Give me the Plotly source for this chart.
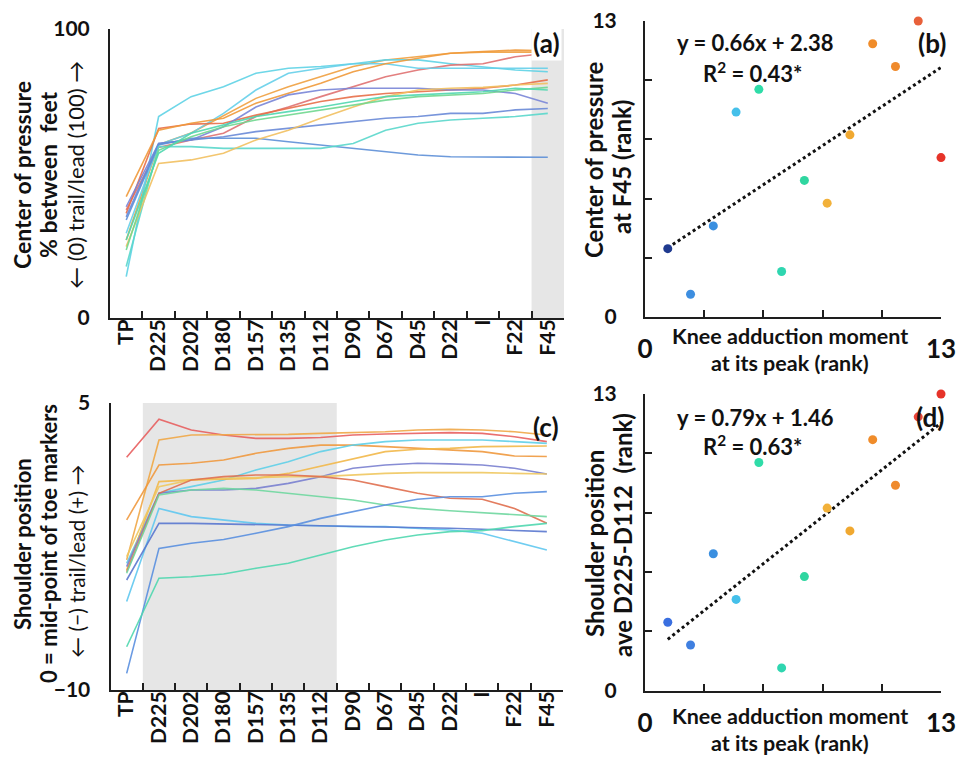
import plotly.graph_objects as go

# ---------------- data ----------------
categories = ["TP", "D225", "D202", "D180", "D157", "D135", "D112",
              "D90", "D67", "D45", "D22", "I", "F22", "F45"]

# Panel (a): centre of pressure, % between feet (13 subjects)
cop_s01 = [27, 60, 64, 70, 76, 80, 83.5, 87, 89.3, 90.4, 91.6, 92, 92, 92]
cop_s02 = [14.3, 69.7, 76.6, 80, 84.7, 86.4, 87, 88, 89.3, 89.3, 88, 87, 85.8, 85.2]
cop_s03 = [37.4, 59, 61.6, 63.9, 69.7, 73, 76.6, 80, 83.5, 85.8, 87.5, 88, 90.4, 91.6]
cop_s04 = [29.3, 60, 63.9, 70.8, 78.9, 84.7, 86.4, 88, 88, 86.4, 86.4, 86.4, 86.4, 86.4]
cop_s05 = [36.2, 65.6, 67.1, 67.4, 70.2, 72.5, 74.9, 76.6, 77.7, 78.3, 78.9, 79.5, 80.6, 82.4]
cop_s06 = [42, 65, 67.4, 69.1, 74.3, 77.7, 81.2, 85.2, 88, 89.9, 91.6, 92.2, 92.7, 92.5]
cop_s07 = [38.5, 60.4, 61.6, 66.2, 73, 77.2, 78.9, 79.5, 79.5, 79.5, 78.9, 78.9, 77.7, 74.3]
cop_s08 = [35, 60.4, 61.6, 62.7, 64.5, 65.6, 66.8, 67.9, 69.1, 69.7, 70.8, 70.8, 72, 72.5]
cop_s09 = [33.9, 59.9, 62.2, 62.2, 62.2, 61, 59.9, 58.7, 57.6, 56.4, 55.8, 55.8, 55.8, 55.6]
cop_s10 = [17.8, 59.3, 59.3, 58.7, 58.7, 58.7, 58.7, 60.4, 65, 67.4, 68.5, 69.1, 69.7, 70.8]
cop_s11 = [24.7, 53.5, 54.7, 57, 61.6, 65, 69.1, 73, 76.6, 78.9, 79.5, 79.8, 80.6, 81.2]
cop_s12 = [23.5, 58, 62.7, 66.2, 68.5, 70.2, 72, 73.7, 75.4, 76.6, 77.2, 77.7, 78.9, 79.8]
cop_s13 = [27, 57, 63.9, 66.8, 69.7, 71.4, 73, 74.9, 76.6, 77.2, 77.7, 78.3, 79.5, 78.9]

# Panel (c): shoulder position relative to mid-point of toe markers
sh_s01 = [2.16, 4.15, 3.59, 3.33, 3.15, 3.15, 3.2, 3.33, 3.38, 3.41, 3.45, 3.41, 3.24, 2.98]
sh_s02 = [-3.2, 3.07, 3.33, 3.33, 3.33, 3.36, 3.41, 3.45, 3.5, 3.59, 3.62, 3.59, 3.5, 3.33]
sh_s03 = [-1.11, 1.76, 1.85, 2.02, 2.37, 2.63, 2.8, 2.8, 2.72, 2.63, 2.54, 2.46, 2.23, 2.2]
sh_s04 = [-3.38, 0.28, 0.63, 0.98, 1.5, 1.93, 2.46, 2.8, 2.98, 3.07, 3.07, 3.07, 2.98, 2.89]
sh_s05 = [-3.73, 0.89, 0.98, 1.02, 1.06, 1.32, 1.71, 2.11, 2.46, 2.58, 2.63, 2.72, 2.75, 2.75]
sh_s06 = [-3.55, 0.28, 0.45, 0.45, 0.54, 0.8, 1.15, 1.59, 1.76, 1.85, 1.82, 1.76, 1.59, 1.29]
sh_s07 = [-3.03, 0.63, 0.98, 1.06, 1.1, 1.15, 1.15, 1.24, 1.32, 1.36, 1.36, 1.36, 1.32, 1.29]
sh_s08 = [-3.82, 0.28, 0.98, 1.15, 1.24, 1.24, 1.15, 0.98, 0.63, 0.28, 0.02, -0.03, -0.51, -1.29]
sh_s09 = [-3.9, 0.19, 0.45, 0.54, 0.45, 0.28, 0.1, -0.07, -0.33, -0.51, -0.63, -0.73, -0.85, -0.94]
sh_s10 = [-5.38, -0.51, -0.94, -1.11, -1.29, -1.38, -1.43, -1.46, -1.46, -1.55, -1.64, -1.81, -2.25, -2.68]
sh_s11 = [-4.25, -1.29, -1.29, -1.32, -1.38, -1.41, -1.41, -1.43, -1.46, -1.52, -1.55, -1.6, -1.67, -1.72]
sh_s12 = [-9.13, -2.6, -2.33, -2.13, -1.81, -1.46, -1.03, -0.68, -0.33, -0.03, 0.1, 0.1, 0.28, 0.37]
sh_s13 = [-7.74, -4.16, -4.08, -3.94, -3.64, -3.38, -2.94, -2.51, -2.16, -1.9, -1.72, -1.67, -1.46, -1.29]

# Panels (b) and (d): ranks
knee_rank = [1, 2, 3, 4, 5, 6, 7, 8, 9, 10, 11, 12, 13]
cop_f45_rank = [3, 1, 4, 9, 10, 2, 6, 5, 8, 12, 11, 13, 7]
shoulder_rank = [3, 2, 6, 4, 10, 1, 5, 8, 7, 11, 9, 12, 13]

# regression lines as reported
fit_b = (0.66, 2.38)
fit_d = (0.79, 1.46)
fit_x = [1, 13]

# ---------------- styles ----------------
W, H = 958, 758
FONT = "Lato"
AX = "#1e1e1e"
SHADE = "#e6e6e6"

cop_series = [cop_s01, cop_s02, cop_s03, cop_s04, cop_s05, cop_s06, cop_s07,
              cop_s08, cop_s09, cop_s10, cop_s11, cop_s12, cop_s13]
cop_colors = ["#f0a040", "#5fd3e6", "#e07272", "#66d0ea", "#e8704a", "#f09a3a",
              "#7a86d8", "#6a8ad8", "#5e90d8", "#5ad8cc", "#f2c060", "#70d890", "#50d8b0"]
sh_series = [sh_s01, sh_s02, sh_s03, sh_s04, sh_s05, sh_s06, sh_s07,
             sh_s08, sh_s09, sh_s10, sh_s11, sh_s12, sh_s13]
sh_colors = ["#e86060", "#f0a848", "#f09a40", "#60d0e8", "#f2b84a", "#7a80d0", "#f0c860",
             "#e07050", "#70d8a0", "#60c8f0", "#5a78d0", "#5a90e0", "#50d8b0"]
b_colors = ["#1f3a8f", "#3d8ee0", "#3a8fe0", "#45c0ea", "#2fdca8", "#2fd6b0", "#2fd6a0",
            "#f2b13a", "#f0a830", "#f08c2a", "#ef8a2c", "#e8603a", "#e63329"]
d_colors = ["#3a6fe0", "#3f7fe0", "#3a8fe0", "#45c0ea", "#2fdca8", "#2fd6b0", "#2fd6a0",
            "#f2b13a", "#f0a830", "#f08c2a", "#ef8a2c", "#e8453a", "#e63329"]


def fx(p):
    return p / W


def fy(p):
    return 1 - p / H


fig = go.Figure()

# lines panel (a)
for s, c in zip(cop_series, cop_colors):
    fig.add_trace(go.Scatter(x=categories, y=s, mode="lines", xaxis="x", yaxis="y",
                             line=dict(color=c, width=1.6), opacity=0.9,
                             showlegend=False, hoverinfo="skip"))
# lines panel (c)
for s, c in zip(sh_series, sh_colors):
    fig.add_trace(go.Scatter(x=categories, y=s, mode="lines", xaxis="x3", yaxis="y3",
                             line=dict(color=c, width=1.6), opacity=0.9,
                             showlegend=False, hoverinfo="skip"))

# scatter (b)
fig.add_trace(go.Scatter(x=fit_x, y=[fit_b[0] * v + fit_b[1] for v in fit_x], mode="lines",
                         xaxis="x2", yaxis="y2", line=dict(color="#111", width=3, dash="dot"),
                         showlegend=False))
fig.add_trace(go.Scatter(x=knee_rank, y=cop_f45_rank, mode="markers", xaxis="x2", yaxis="y2",
                         marker=dict(color=b_colors, size=9), cliponaxis=False,
                         showlegend=False))
# scatter (d)
fig.add_trace(go.Scatter(x=fit_x, y=[fit_d[0] * v + fit_d[1] for v in fit_x], mode="lines",
                         xaxis="x4", yaxis="y4", line=dict(color="#111", width=3, dash="dot"),
                         showlegend=False))
fig.add_trace(go.Scatter(x=knee_rank, y=shoulder_rank, mode="markers", xaxis="x4", yaxis="y4",
                         marker=dict(color=d_colors, size=9), cliponaxis=False,
                         showlegend=False))

tickfont_cat = dict(family=FONT, size=21, color="#111", weight="bold")
tickfont_y = dict(family=FONT, size=21, color="#111", weight="bold")

cat_axis = dict(type="category", categoryorder="array", categoryarray=categories,
                range=[-0.5, 13.5], tickson="boundaries", ticks="inside", ticklen=7,
                tickwidth=2, tickcolor=AX, showline=True, linewidth=2, linecolor=AX,
                tickangle=-90, tickfont=tickfont_cat, ticklabelstandoff=-9,
                showgrid=False, zeroline=False, automargin=False)

rank_minor = dict(ticks="inside", tick0=0, dtick=2.6, ticklen=7, tickwidth=2, tickcolor=AX)

fig.update_layout(
    width=W, height=H, margin=dict(l=0, r=0, t=0, b=0),
    paper_bgcolor="white", plot_bgcolor="white",
    font=dict(family=FONT, color="#111"),
    xaxis=dict(domain=[fx(110), fx(564)], anchor="y", **cat_axis),
    yaxis=dict(domain=[fy(318), fy(29)], anchor="x", range=[0, 100], tickvals=[0, 100],
               ticks="inside", ticklen=7, tickwidth=2, tickcolor=AX, showline=True,
               linewidth=2, linecolor=AX, tickfont=tickfont_y, ticklabelstandoff=14,
               showgrid=False, zeroline=False, automargin=False),
    xaxis3=dict(domain=[fx(110.5), fx(563)], anchor="y3", **cat_axis),
    yaxis3=dict(domain=[fy(690), fy(403)], anchor="x3", range=[-10, 5], tickvals=[-10, 5],
                ticks="inside", ticklen=7, tickwidth=2, tickcolor=AX, showline=True,
                linewidth=2, linecolor=AX, tickfont=tickfont_y, ticklabelstandoff=14,
                showgrid=False, zeroline=False, automargin=False),
    xaxis2=dict(domain=[fx(645), fx(941)], anchor="y2", range=[0, 13], tickvals=[0, 13],
                ticks="inside", ticklen=7, tickwidth=2, tickcolor=AX, minor=rank_minor,
                showline=True, linewidth=2, linecolor=AX,
                tickfont=dict(family=FONT, size=26, color="#111", weight="bold"),
                ticklabelstandoff=8, showgrid=False, zeroline=False, automargin=False),
    yaxis2=dict(domain=[fy(317), fy(21)], anchor="x2", range=[0, 13], tickvals=[0, 13],
                ticks="inside", ticklen=7, tickwidth=2, tickcolor=AX, minor=rank_minor,
                showline=True, linewidth=2, linecolor=AX, tickfont=tickfont_y,
                ticklabelstandoff=22, showgrid=False, zeroline=False, automargin=False),
    xaxis4=dict(domain=[fx(645), fx(941)], anchor="y4", range=[0, 13], tickvals=[0, 13],
                ticks="inside", ticklen=7, tickwidth=2, tickcolor=AX, minor=rank_minor,
                showline=True, linewidth=2, linecolor=AX,
                tickfont=dict(family=FONT, size=26, color="#111", weight="bold"),
                ticklabelstandoff=8, showgrid=False, zeroline=False, automargin=False),
    yaxis4=dict(domain=[fy(690.7), fy(394)], anchor="x4", range=[0, 13], tickvals=[0, 13],
                ticks="inside", ticklen=7, tickwidth=2, tickcolor=AX, minor=rank_minor,
                showline=True, linewidth=2, linecolor=AX, tickfont=tickfont_y,
                ticklabelstandoff=22, showgrid=False, zeroline=False, automargin=False),
)

# shaded regions
fig.add_shape(type="rect", xref="x", yref="y", x0=12.5, x1=13.5, y0=0, y1=100,
              fillcolor=SHADE, line=dict(width=0), layer="below")
fig.add_shape(type="rect", xref="x3", yref="y3", x0=0.5, x1=6.5, y0=-10, y1=5,
              fillcolor=SHADE, line=dict(width=0), layer="below")


def ann(text, x, y, size=20, bold=True, angle=0, bg=None):
    kw = dict(text=text, x=fx(x), y=fy(y), xref="paper", yref="paper",
              showarrow=False, textangle=angle, xanchor="center", yanchor="middle",
              font=dict(family=FONT, size=size, color="#111",
                        weight="bold" if bold else "normal"))
    if bg:
        kw["bgcolor"] = bg
    fig.add_annotation(**kw)


# y titles, left panels
ann("Center of pressure", 22, 175, size=23, angle=-90)
ann("% between  feet", 48, 175, size=23, angle=-90)
ann("← (0) trail/lead (100) →", 76, 175, size=22, bold=False, angle=-90)
ann("Shoulder position", 22, 544, size=22, angle=-90)
ann("0 = mid-point of toe markers", 48, 544, size=22, angle=-90)
ann("← (−) trail/lead (+) →", 76, 562, size=21, bold=False, angle=-90)

# y titles, right panels
ann("Center of pressure", 594, 160, size=24, angle=-90)
ann("at F45 (rank)", 621, 167, size=24, angle=-90)
ann("Shoulder position", 594, 544, size=24, angle=-90)
ann("ave D225-D112  (rank)", 622, 535, size=24, angle=-90)

# x titles, right panels
for yy in (0, 380):
    ann("Knee adduction moment", 790, 336 + yy, size=21.5)
    ann("at its peak (rank)", 790, 363 + yy, size=21.5)

# equations
ann(f"y = {fit_b[0]:.2f}x + {fit_b[1]:.2f}", 755, 43, size=22)
ann("R<sup>2</sup> = 0.43*", 752, 72, size=22)
ann(f"y = {fit_d[0]:.2f}x + {fit_d[1]:.2f}", 755, 417, size=22)
ann("R<sup>2</sup> = 0.63*", 752, 445, size=22)

# panel labels
ann("(a)", 546, 43, size=26, bg="white")
ann("(b)", 932, 43, size=26)
ann("(c)", 546, 427, size=26)
ann("(d)", 930, 417, size=26)

fig.write_html("out.html")
